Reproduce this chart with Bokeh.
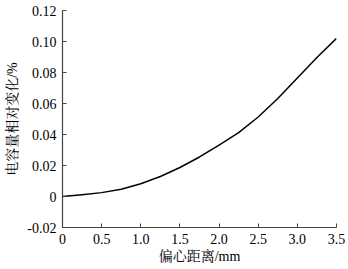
from bokeh.plotting import figure
from bokeh.models import FixedTicker, Range1d
from bokeh.embed import file_html
from bokeh.resources import INLINE

x_vals = [0.0, 0.25, 0.5, 0.75, 1.0, 1.25, 1.5, 1.75, 2.0, 2.25, 2.5, 2.75, 3.0, 3.25, 3.5]
y_vals = [0.0, 0.0012, 0.0025, 0.0047, 0.0082, 0.0129, 0.0187, 0.0255, 0.0332, 0.0412, 0.0513, 0.0632, 0.0765, 0.0897, 0.1020]

x_ticks = [0, 0.5, 1.0, 1.5, 2.0, 2.5, 3.0, 3.5]
x_tick_labels = ["0", "0.5", "1.0", "1.5", "2.0", "2.5", "3.0", "3.5"]
y_ticks = [-0.02, 0, 0.02, 0.04, 0.06, 0.08, 0.10, 0.12]
y_tick_labels = ["-0.02", "0", "0.02", "0.04", "0.06", "0.08", "0.10", "0.12"]

x_title = "偏心距离/mm"
y_title = "电容量相对变化/%"

FONT = "'Liberation Serif', 'Noto Serif CJK SC', 'Noto Sans CJK SC', serif"

p = figure(width=348, height=269, output_backend="svg", toolbar_location=None,
           x_range=Range1d(0, 3.5), y_range=Range1d(-0.02, 0.12),
           min_border_left=62, min_border_right=12, min_border_top=10, min_border_bottom=42)
p.outline_line_color = None
p.xgrid.visible = False
p.ygrid.visible = False
p.background_fill_color = "white"
p.border_fill_color = "white"

p.line(x_vals, y_vals, line_color="black", line_width=1.5, line_join="round")

for ax, ticks, labels in ((p.xaxis[0], x_ticks, x_tick_labels), (p.yaxis[0], y_ticks, y_tick_labels)):
    ax.ticker = FixedTicker(ticks=ticks)
    ax.major_label_overrides = {t: l for t, l in zip(ticks, labels)}
    ax.minor_tick_line_color = None
    ax.major_tick_in = 4
    ax.major_tick_out = 0
    ax.axis_line_color = "#444444"
    ax.major_tick_line_color = "#444444"
    ax.axis_line_width = 1.2
    ax.major_label_text_font = FONT
    ax.major_label_text_font_size = "14px"
    ax.major_label_text_color = "black"
    ax.axis_label_text_font = FONT
    ax.axis_label_text_font_size = "14px"
    ax.axis_label_text_font_style = "normal"
    ax.axis_label_text_color = "black"

p.xaxis.axis_label = x_title
p.yaxis.axis_label = y_title
p.xaxis.major_label_standoff = 6
p.xaxis.axis_label_standoff = 2
p.yaxis.major_label_standoff = 6
p.yaxis.axis_label_standoff = 4

open("out.html", "w").write(file_html(p, INLINE))
